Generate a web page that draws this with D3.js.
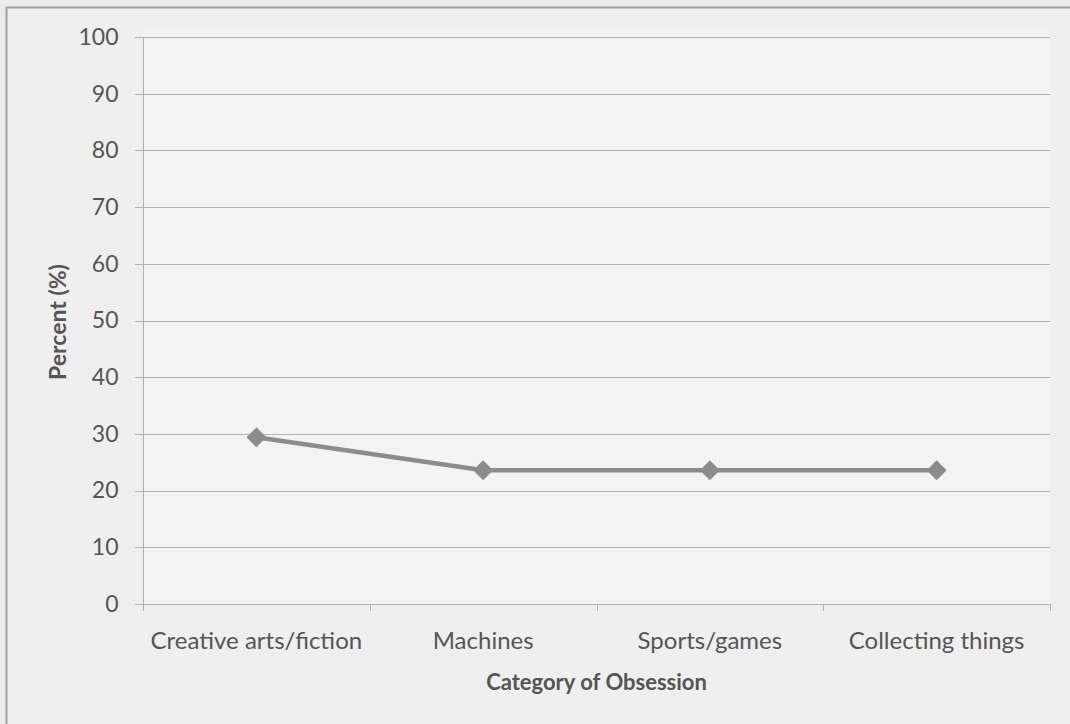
<!DOCTYPE html>
<html><head><meta charset="utf-8">
<script src="https://cdn.jsdelivr.net/npm/d3@7"></script>
<style>
html,body{margin:0;padding:0;background:#ededed;}
svg{display:block;}
text{font-family:Lato,"Open Sans",sans-serif;}
</style></head>
<body>
<script>
const categories = ["Creative arts/fiction","Machines","Sports/games","Collecting things"];
const values = [29.4, 23.6, 23.6, 23.6];
const yTicks = [0,10,20,30,40,50,60,70,80,90,100];
const xTitle = "Category of Obsession";
const yTitle = "Percent (%)";

const W = 1070, H = 724;
const svg = d3.select("body").append("svg").attr("width", W).attr("height", H);

// background frame
svg.append("rect").attr("x",0).attr("y",0).attr("width",W).attr("height",H).attr("fill","#ececec");
svg.append("rect").attr("x",6.5).attr("y",7.5).attr("width",W+20).attr("height",H+20)
  .attr("fill","#efefef").attr("stroke","#a0a0a0").attr("stroke-width",2);

const pL = 143, pR = 1050, pT = 37, pB = 604;
svg.append("rect").attr("x",pL).attr("y",pT-8).attr("width",pR-pL).attr("height",pB-pT+8).attr("fill","#f3f3f3");

const x = d3.scaleBand().domain(categories).range([pL, pR]).paddingInner(0).paddingOuter(0);
const y = d3.scaleLinear().domain([0,100]).range([pB, pT]);

// gridlines
svg.append("g").selectAll("line").data(yTicks).join("line")
  .attr("x1", pL-8).attr("x2", pR)
  .attr("y1", d=>Math.round(y(d))+0.5).attr("y2", d=>Math.round(y(d))+0.5)
  .attr("stroke","#b4b4b4").attr("stroke-width",1);

// y axis
const yAxis = svg.append("g").attr("transform",`translate(${pL+0.5},0)`)
  .call(d3.axisLeft(y).tickValues(yTicks).tickSize(0).tickPadding(25));
yAxis.select(".domain").attr("stroke","#b0b0b0").attr("d",`M0,${pT}V${pB+4}`);
yAxis.selectAll("text").attr("font-size",23).attr("fill","#555");

// x axis
const xAxis = svg.append("g").attr("transform",`translate(0,${Math.round(pB)+0.5})`)
  .call(d3.axisBottom(x).tickSize(0).tickPadding(27));
xAxis.select(".domain").remove();
xAxis.selectAll("text").attr("font-size",24).attr("fill","#555");
// category boundary ticks
const bounds = categories.map(c=>x(c)).concat([pR]);
svg.append("g").selectAll("line").data(bounds).join("line")
  .attr("x1",d=>Math.round(d)+0.5).attr("x2",d=>Math.round(d)+0.5)
  .attr("y1",pB).attr("y2",pB+7)
  .attr("stroke","#b0b0b0");

// line
const cx = d => x(d) + x.bandwidth()/2;
const pts = categories.map((c,i)=>[cx(c), y(values[i])]);
svg.append("path").attr("d", d3.line()(pts)).attr("fill","none")
  .attr("stroke","#8c8c8c").attr("stroke-width",4.5).attr("stroke-linejoin","round");
svg.append("g").selectAll("path").data(pts).join("path")
  .attr("d", d=>`M${d[0]},${d[1]-10}L${d[0]+10},${d[1]}L${d[0]},${d[1]+10}L${d[0]-10},${d[1]}Z`)
  .attr("fill","#8c8c8c");

// titles
svg.append("text").attr("x",(pL+pR)/2).attr("y",690).attr("text-anchor","middle")
  .attr("font-size",22).attr("font-weight","bold").attr("fill","#555").text(xTitle);
svg.append("text").attr("transform",`translate(66,322) rotate(-90)`).attr("text-anchor","middle")
  .attr("font-size",23).attr("font-weight","bold").attr("fill","#555").text(yTitle);
</script>
</body></html>
